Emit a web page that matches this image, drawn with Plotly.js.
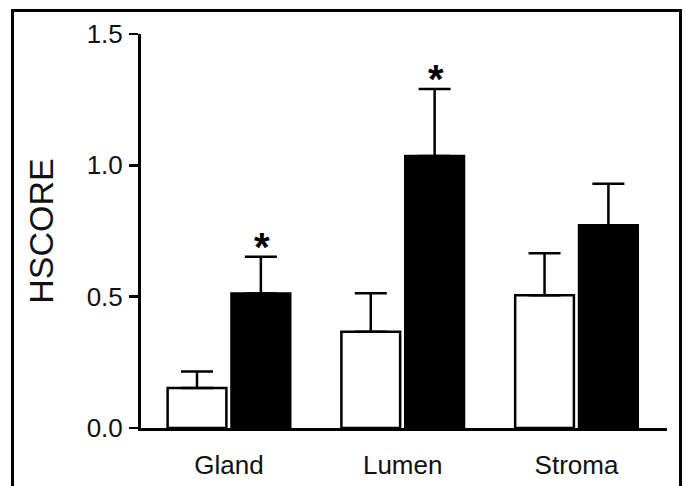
<!DOCTYPE html>
<html>
<head>
<meta charset="utf-8">
<script src="https://cdn.plot.ly/plotly-3.0.1.min.js"></script>
<style>
  html, body { margin: 0; padding: 0; background: #fff; overflow: hidden; }
  #wrap { position: relative; width: 686px; height: 486px; }
  #chart { position: absolute; left: 0; top: 0; width: 686px; height: 486px; }
  #frame { position: absolute; left: 11px; top: 9px; width: 665px; height: 500px;
           border-left: 3px solid #000; border-top: 3px solid #000; border-right: 3px solid #000;
           pointer-events: none; }
</style>
</head>
<body>
<div id="wrap">
  <div id="chart"></div>
  <div id="frame"></div>
</div>
<script>
// ---- data ----
const categories = ["Gland", "Lumen", "Stroma"];
const whiteValues = [0.152, 0.366, 0.505];
const whiteErrors = [0.063, 0.147, 0.160];
const blackValues = [0.512, 1.036, 0.772];
const blackErrors = [0.140, 0.255, 0.158];
const blackSignificant = [true, true, false];
const yTickValues = [0, 0.5, 1.0, 1.5];
const yTickLabels = ["0.0", "0.5", "1.0", "1.5"];

const FONT = "Liberation Sans, Arial, Helvetica, sans-serif";

const traceWhite = {
  type: "bar",
  name: "Group 1",
  x: categories,
  y: whiteValues,
  marker: { color: "#ffffff", line: { color: "#000000", width: 2.5 } },
  error_y: {
    type: "data", symmetric: false,
    array: whiteErrors, arrayminus: whiteErrors.map(() => 0),
    color: "#000000", thickness: 2.5, width: 16
  },
  hoverinfo: "x+y"
};
const traceBlack = {
  type: "bar",
  name: "Group 2",
  x: categories,
  y: blackValues,
  marker: { color: "#000000", line: { color: "#000000", width: 2.5 } },
  error_y: {
    type: "data", symmetric: false,
    array: blackErrors, arrayminus: blackErrors.map(() => 0),
    color: "#000000", thickness: 2.5, width: 16
  },
  hoverinfo: "x+y"
};

// asterisks above significant black bars
const annotations = [];
categories.forEach((c, i) => {
  if (blackSignificant[i]) {
    annotations.push({
      x: i + 0.19, y: blackValues[i] + blackErrors[i],
      xref: "x", yref: "y",
      text: "*", showarrow: false,
      xanchor: "center", yanchor: "bottom", yshift: -14,
      font: { family: FONT, size: 40, color: "#000000", weight: "bold" }
    });
  }
});

const layout = {
  width: 686, height: 486,
  margin: { l: 141, r: 19, t: 34, b: 58, pad: 0 },
  paper_bgcolor: "#ffffff", plot_bgcolor: "#ffffff",
  barmode: "group", bargap: 0.265, bargroupgap: 0.08,
  showlegend: false,
  font: { family: FONT, color: "#111111" },
  xaxis: {
    type: "category",
    range: [-0.506, 2.521],
    showline: true, linecolor: "#000000", linewidth: 3,
    ticks: "", showgrid: false, zeroline: false,
    tickfont: { family: FONT, size: 26, color: "#111111" },
    ticklabelstandoff: 12
  },
  yaxis: {
    range: [0, 1.5],
    tickvals: yTickValues, ticktext: yTickLabels,
    showline: true, linecolor: "#000000", linewidth: 3,
    ticks: "outside", ticklen: 9, tickwidth: 2.5, tickcolor: "#000000",
    showgrid: false, zeroline: false,
    tickfont: { family: FONT, size: 26, color: "#111111" },
    ticklabelstandoff: 1,
    title: { text: "HSCORE", font: { family: FONT, size: 34, color: "#111111" }, standoff: 23 }
  },
  annotations: annotations
};

Plotly.newPlot("chart", [traceWhite, traceBlack], layout, { displayModeBar: false, staticPlot: true });
</script>
</body>
</html>
